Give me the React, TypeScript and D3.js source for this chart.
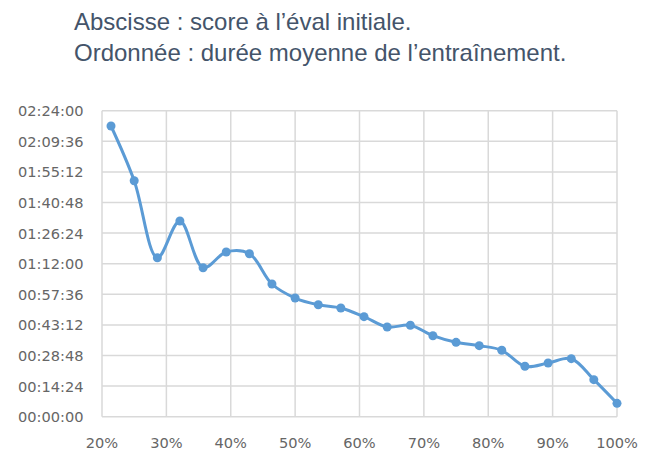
import React from "react";
import * as d3 from "d3";

const titleLines = [
  "Abscisse : score à l’éval initiale.",
  "Ordonnée : durée moyenne de l’entraînement.",
];

// x: initial evaluation score (fraction)
const scores = [
  0.214, 0.25, 0.286, 0.321, 0.357, 0.393, 0.429, 0.464, 0.5, 0.536, 0.571,
  0.607, 0.643, 0.679, 0.714, 0.75, 0.786, 0.821, 0.857, 0.893, 0.929, 0.964,
  1.0,
];

// y: average training duration (hh:mm:ss)
const durations = [
  "02:16:48", "01:51:03", "01:14:49", "01:32:06", "01:10:07", "01:17:30",
  "01:16:42", "01:02:27", "00:55:51", "00:52:42", "00:51:09", "00:47:04",
  "00:42:13", "00:43:01", "00:38:07", "00:35:00", "00:33:25", "00:31:15",
  "00:23:43", "00:25:16", "00:27:18", "00:17:25", "00:06:18",
];

const xTicks = [0.2, 0.3, 0.4, 0.5, 0.6, 0.7, 0.8, 0.9, 1.0];
const yTickLabels = [
  "00:00:00", "00:14:24", "00:28:48", "00:43:12", "00:57:36", "01:12:00",
  "01:26:24", "01:40:48", "01:55:12", "02:09:36", "02:24:00",
];

const toSec = (s: string) => {
  const [h, m, sec] = s.split(":").map(Number);
  return h * 3600 + m * 60 + sec;
};

const W = 654;
const H = 462;
const margin = { left: 102, right: 37, top: 110.7, bottom: 45.3 };

export default function App() {
  const x = d3
    .scaleLinear()
    .domain([0.2, 1.0])
    .range([margin.left, W - margin.right]);
  const yTicks = yTickLabels.map(toSec);
  const y = d3
    .scaleLinear()
    .domain([0, yTicks[yTicks.length - 1]])
    .range([H - margin.bottom, margin.top]);

  const data = scores.map((s, i) => ({ s, v: toSec(durations[i]) }));
  const line = d3
    .line<{ s: number; v: number }>()
    .x((d) => x(d.s))
    .y((d) => y(d.v))
    .curve(d3.curveCatmullRom.alpha(0.5));

  const fmtPct = d3.format(".0%");
  const titleFont = "'Liberation Sans', Arial, sans-serif";
  const tickFont = "'DejaVu Sans', Verdana, sans-serif";

  return (
    <svg
      width={W}
      height={H}
      style={{ position: "absolute", left: 0, top: 0, background: "#fff" }}
    >
      <rect width={W} height={H} fill="#fff" />
      {titleLines.map((t, i) => (
        <text
          key={i}
          x={74}
          y={29.5 + i * 31.5}
          fontFamily={titleFont}
          fontSize={24}
          fill="#44546a"
        >
          {t}
        </text>
      ))}
      <g>
        {yTicks.map((t, i) => (
          <line
            key={"h" + i}
            x1={x(0.2)}
            x2={x(1.0)}
            y1={y(t)}
            y2={y(t)}
            stroke="#d9d9d9"
            strokeWidth={1.5}
          />
        ))}
        {xTicks.map((t, i) => (
          <line
            key={"v" + i}
            x1={x(t)}
            x2={x(t)}
            y1={y(0)}
            y2={y(yTicks[yTicks.length - 1])}
            stroke="#d9d9d9"
            strokeWidth={1.5}
          />
        ))}
      </g>
      <g fontFamily={tickFont} fontSize={14.6} fill="#666666">
        {yTicks.map((t, i) => (
          <text
            key={"yl" + i}
            x={83.5}
            y={y(t)}
            textAnchor="end"
            dominantBaseline="central"
          >
            {yTickLabels[i]}
          </text>
        ))}
        {xTicks.map((t, i) => (
          <text key={"xl" + i} x={x(t)} y={448} textAnchor="middle">
            {fmtPct(t)}
          </text>
        ))}
      </g>
      <path
        d={line(data) || ""}
        fill="none"
        stroke="#5b9bd5"
        strokeWidth={3}
        strokeLinejoin="round"
      />
      {data.map((d, i) => (
        <circle key={"p" + i} cx={x(d.s)} cy={y(d.v)} r={4.5} fill="#5b9bd5" />
      ))}
    </svg>
  );
}
